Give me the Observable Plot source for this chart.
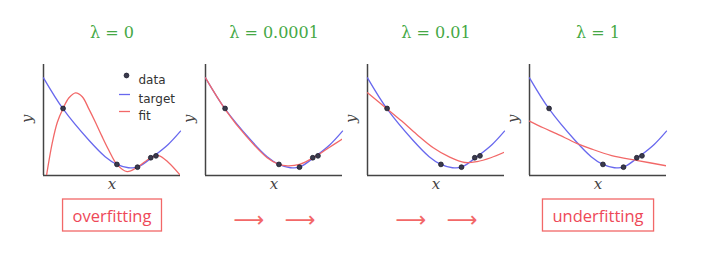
<!DOCTYPE html>
<html><head><meta charset="utf-8">
<script src="https://cdn.jsdelivr.net/npm/d3@7"></script>
<script src="https://cdn.jsdelivr.net/npm/@observablehq/plot@0.6"></script>
<style>body{margin:0;background:#fff;}</style>
</head><body><div id="chart"></div>
<script>
// ---- data ----
const lambdas = ["λ = 0", "λ = 0.0001", "λ = 0.01", "λ = 1"];
const dataX = [0.143, 0.536, 0.686, 0.783, 0.821];
const dataY = [0.604, 0.100, 0.075, 0.160, 0.177];
const targetX = [0, 0.143, 0.33, 0.45, 0.536, 0.62, 0.686, 0.81, 0.91, 1.0];
const targetY = [0.88, 0.60, 0.32, 0.17, 0.10, 0.07, 0.075, 0.18, 0.28, 0.40];
const fitX0 = [0.022, 0.065, 0.101, 0.143, 0.186, 0.234, 0.283, 0.331, 0.379, 0.428, 0.476, 0.536, 0.61, 0.686, 0.783, 0.84, 0.91, 1.0];
const fitY0 = [0.0, 0.30, 0.48, 0.604, 0.70, 0.745, 0.71, 0.60, 0.48, 0.35, 0.23, 0.10, 0.035, 0.075, 0.16, 0.18, 0.12, 0.0];
const fitX1 = [0, 0.147, 0.3, 0.45, 0.536, 0.60, 0.686, 0.80, 0.90, 1.0];
const fitY1 = [0.88, 0.59, 0.35, 0.16, 0.10, 0.087, 0.10, 0.17, 0.25, 0.33];
const fitX2 = [0, 0.143, 0.25, 0.36, 0.48, 0.6, 0.71, 0.8, 0.9, 1.0];
const fitY2 = [0.745, 0.60, 0.49, 0.37, 0.25, 0.165, 0.117, 0.125, 0.16, 0.21];
const fitX3 = [0, 0.1, 0.2, 0.345, 0.45, 0.6, 0.79, 1.0];
const fitY3 = [0.49, 0.43, 0.375, 0.29, 0.24, 0.18, 0.135, 0.087];
const legendLabels = ["data", "target", "fit"];
const leftLabel = "overfitting";
const rightLabel = "underfitting";
const arrowGlyph = "⟶";

// ---- styles ----
const blue = "#6868ee", red = "#f26868", green = "#45a845", textRed = "#ee4858";
const fitXs = [fitX0, fitX1, fitX2, fitX3];
const fitYs = [fitY0, fitY1, fitY2, fitY3];
const fitTable = lambdas.flatMap((lam, k) => fitXs[k].map((x, i) => ({lam, x, y: fitYs[k][i]})));
const target = targetX.map((x, i) => ({x, y: targetY[i]}));
const points = dataX.map((x, i) => ({x, y: dataY[i]}));
const lineSym = {draw(ctx) { ctx.moveTo(-5.5, 0); ctx.lineTo(5.5, 0); }};
const legendDy = [11, 30, 47];
const serif = "DejaVu Serif";
const sans = "DejaVu Sans";

const chart = Plot.plot({
  width: 715, height: 266,
  marginTop: 64, marginBottom: 91, marginLeft: 41, marginRight: 47,
  fx: {domain: lambdas, paddingInner: 0.153, paddingOuter: 0, axis: null, label: null},
  x: {domain: [0, 1], axis: null},
  y: {domain: [0, 1], axis: null},
  style: {background: "white", overflow: "visible"},
  marks: [
    Plot.ruleX([0], {stroke: "#444", strokeWidth: 1.5}),
    Plot.ruleY([0], {stroke: "#444", strokeWidth: 1.5}),
    Plot.line(target, {x: "x", y: "y", stroke: blue, strokeWidth: 1.3, curve: "catmull-rom"}),
    Plot.line(fitTable, {fx: "lam", x: "x", y: "y", stroke: red, strokeWidth: 1.3, curve: "catmull-rom", clip: true}),
    Plot.dot(points, {x: "x", y: "y", r: 2.4, fill: "#3a3a4c", stroke: "#1c1c2c", strokeWidth: 0.8}),
    Plot.text(lambdas, {fx: d => d, text: d => d, frameAnchor: "top", dy: -38, fontSize: 16, fontFamily: serif, fill: green}),
    Plot.text(lambdas, {fx: d => d, text: () => "y", frameAnchor: "left", dx: -16, dy: 3, rotate: -90, fontSize: 15, fontStyle: "italic", fontFamily: serif, fill: "#444"}),
    Plot.text(lambdas, {fx: d => d, text: () => "x", frameAnchor: "bottom", dy: 13, fontSize: 15, fontStyle: "italic", fontFamily: serif, fill: "#444"}),
    // legend
    Plot.dot([lambdas[0]], {fx: d => d, frameAnchor: "top-left", dx: 83, dy: legendDy[0], r: 2.4, fill: "#3a3a4c", stroke: "#1c1c2c", strokeWidth: 0.8}),
    Plot.dot([lambdas[0]], {fx: d => d, frameAnchor: "top-left", dx: 81, dy: legendDy[1], symbol: lineSym, fill: "none", stroke: blue, strokeWidth: 1.3}),
    Plot.dot([lambdas[0]], {fx: d => d, frameAnchor: "top-left", dx: 81, dy: legendDy[2], symbol: lineSym, fill: "none", stroke: red, strokeWidth: 1.3}),
    ...legendLabels.map((t, i) => Plot.text([t], {fx: () => lambdas[0], text: d => d, frameAnchor: "top-left", dx: 95, dy: legendDy[i], textAnchor: "start", fontSize: 12, fontFamily: sans, fill: "#333"})),
    // bottom annotations
    Plot.text([leftLabel], {fx: () => lambdas[0], text: d => d, frameAnchor: "bottom", dy: 46, fontSize: 16.5, fontFamily: "Open Sans", fill: textRed}),
    Plot.text([rightLabel], {fx: () => lambdas[3], text: d => d, frameAnchor: "bottom", dy: 46, fontSize: 16.5, fontFamily: "Open Sans", fill: textRed}),
    Plot.text([lambdas[1], lambdas[2]], {fx: d => d, text: () => arrowGlyph, frameAnchor: "bottom-left", dx: 28, dy: 51, fontSize: 21.5, fontFamily: sans, fill: red}),
    Plot.text([lambdas[1], lambdas[2]], {fx: d => d, text: () => arrowGlyph, frameAnchor: "bottom-right", dx: -27, dy: 51, fontSize: 21.5, fontFamily: sans, fill: red})
  ]
});
document.getElementById("chart").appendChild(chart);

// boxes around the over/underfitting labels
chart.querySelectorAll("text").forEach(t => {
  if (t.textContent === leftLabel || t.textContent === rightLabel) {
    const b = t.getBBox();
    const r = document.createElementNS("http://www.w3.org/2000/svg", "rect");
    r.setAttribute("x", b.x - 10);
    r.setAttribute("y", b.y + b.height / 2 - 16);
    r.setAttribute("width", b.width + 20);
    r.setAttribute("height", 32);
    r.setAttribute("fill", "none");
    r.setAttribute("stroke", red);
    r.setAttribute("stroke-width", 1.3);
    if (t.getAttribute("transform")) r.setAttribute("transform", t.getAttribute("transform"));
    t.parentNode.insertBefore(r, t);
  }
});
</script>
</body></html>
